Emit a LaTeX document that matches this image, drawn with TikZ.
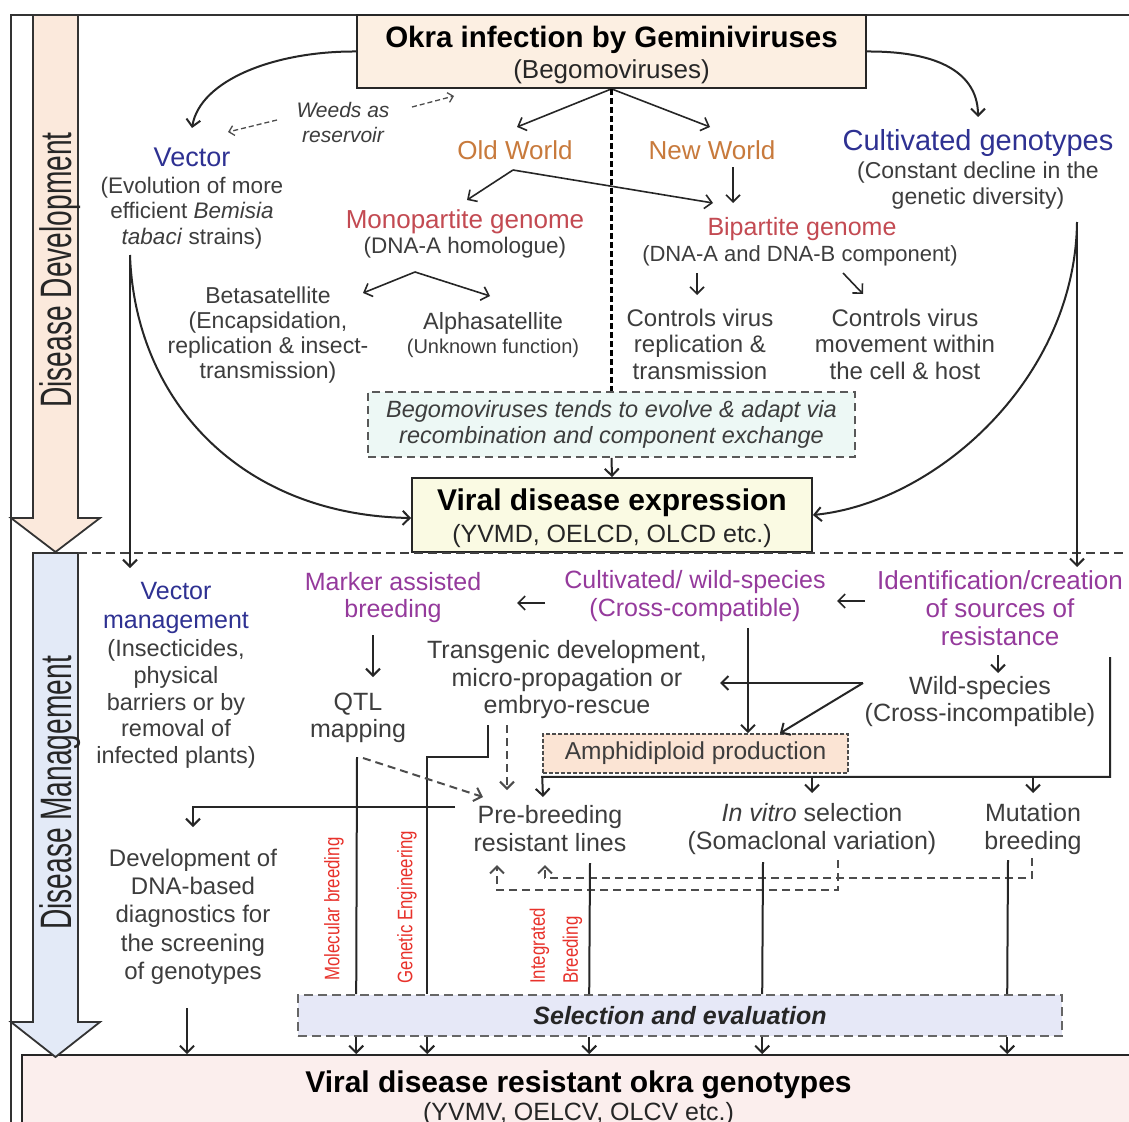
\documentclass[tikz,border=0pt]{standalone}
\usepackage{fontspec}
\setmainfont{Liberation Sans}
\newfontfamily\condA[FakeStretch=0.8]{Liberation Sans}
\newfontfamily\condB[FakeStretch=0.64]{Liberation Sans}
\usetikzlibrary{arrows.meta}
\definecolor{cText}{HTML}{3D3D3D}
\definecolor{cBlue}{HTML}{2E3192}
\definecolor{cOrange}{HTML}{C87A3C}
\definecolor{cRed}{HTML}{C34A52}
\definecolor{cPurple}{HTML}{953A9C}
\definecolor{cLab}{HTML}{E8322B}
\definecolor{fTop}{HTML}{FCEFE2}
\definecolor{fDD}{HTML}{FBE9DC}
\definecolor{fDM}{HTML}{E3EAF7}
\definecolor{fBego}{HTML}{EDF8F5}
\definecolor{fVde}{HTML}{FAFAE3}
\definecolor{fAmph}{HTML}{FBE4D4}
\definecolor{fSel}{HTML}{E6E8F7}
\definecolor{fRes}{HTML}{FBEEED}
\tikzset{
  lbl/.style={inner sep=0pt, align=center, text=cText},
  bx/.style={draw=black!85, line width=1.8pt, inner sep=0pt, align=center},
  ln/.style={line width=2pt, draw=black!85},
  arr/.style={ln, -{Straight Barb[length=7pt,width=14pt]}},
  dln/.style={ln, draw=black!70, dash pattern=on 8pt off 5pt},
  darr/.style={arr, draw=black!70, dash pattern=on 8pt off 5pt},
  bigarr/.style={line width=1.8pt, draw=black!80},
  vlab/.style={rotate=90, inner sep=0pt, text=cLab, font=\condA\fontsize{21}{33}\selectfont},
  side/.style={rotate=90, inner sep=0pt, text=black!85, font=\condB\fontsize{44}{44}\selectfont}
}
\begin{document}
\begin{tikzpicture}[x=1pt,y=-1pt]
\useasboundingbox (0,0) rectangle (1129,1121);
\clip (0,0) rectangle (1129,1121);
\fill[white] (0,0) rectangle (1129,1121);

% frame
\draw[line width=1.3pt, black!80] (11,1125) -- (11,15) -- (1132,15);

% bottom result box
\node[bx, fill=fRes, minimum width=1113pt, minimum height=82pt, font=\fontsize{25}{28}\selectfont, text=black!85] (res) at (578.5,1096)
  {{\fontsize{30}{28}\selectfont\bfseries\color{black}\rule{0pt}{26pt}Viral disease resistant okra genotypes}\\(YVMV, OELCV, OLCV etc.)};

% side arrows
\draw[bigarr, fill=fDD] (33,15) -- (78,15) -- (78,518) -- (100,518) -- (55.5,552) -- (11,518) -- (33,518) -- cycle;
\node[side] (ddl) at (60,270) {Disease Development};
\draw[bigarr, fill=fDM] (33,553) -- (78,553) -- (78,1022) -- (100,1022) -- (55.5,1057) -- (11,1022) -- (33,1022) -- cycle;
\node[side] (dml) at (60,793) {Disease Management};

% ---------- upper part ----------
\node[bx, fill=fTop, minimum width=509pt, minimum height=73pt, font=\fontsize{26}{31}\selectfont, text=black!85] (top) at (611.5,51.5)
  {{\fontsize{29.5}{31}\selectfont\bfseries\color{black}\rule{0pt}{28pt}Okra infection by Geminiviruses}\\(Begomoviruses)};

\node[lbl, font=\itshape\fontsize{21}{25}\selectfont] (ww) at (343,122) {Weeds as\\reservoir};
\node[lbl, text=cBlue, font=\fontsize{27}{30}\selectfont] (vec) at (192,157) {Vector};
\node[lbl, font=\fontsize{22.5}{25.5}\selectfont] (vecd) at (192,213) {(Evolution of more\\efficient \textit{Bemisia}\\\textit{tabaci} strains)};
\node[lbl, text=cBlue, font=\fontsize{29}{30}\selectfont] (cg) at (978,143) {Cultivated genotypes};
\node[lbl, font=\fontsize{23}{26}\selectfont] (cgd) at (978,186) {(Constant decline in the\\genetic diversity)};

\node[lbl, text=cOrange, font=\fontsize{26}{28}\selectfont] (ow) at (515,150) {Old World};
\node[lbl, text=cOrange, font=\fontsize{26}{28}\selectfont] (nw) at (712,150) {New World};

\node[lbl, text=cRed, font=\fontsize{26}{28}\selectfont] (mono) at (465,222) {Monopartite genome};
\node[lbl, font=\fontsize{22.5}{25}\selectfont] (monod) at (465,248) {(DNA-A homologue)};
\node[lbl, text=cRed, font=\fontsize{25}{28}\selectfont] (bi) at (802,229) {Bipartite genome};
\node[lbl, font=\fontsize{22}{25}\selectfont] (bid) at (800,256) {(DNA-A and DNA-B component)};

\node[lbl, font=\fontsize{23}{25}\selectfont] (beta) at (268,335.5) {Betasatellite\\(Encapsidation,\\replication \& insect-\\transmission)};
\node[lbl, font=\fontsize{23.5}{24}\selectfont] (alpha) at (493,335) {Alphasatellite\\{\fontsize{20}{24}\selectfont(Unknown function)}};
\node[lbl, font=\fontsize{24}{26.5}\selectfont] (cv1) at (700,344) {Controls virus\\replication \&\\transmission};
\node[lbl, font=\fontsize{24}{26.5}\selectfont] (cv2) at (905,344) {Controls virus\\movement within\\the cell \& host};

\node[bx, draw=black!65, dash pattern=on 8pt off 5pt, line width=1.6pt, fill=fBego, minimum width=487pt, minimum height=65pt, font=\itshape\fontsize{23.5}{26.5}\selectfont, text=cText] (bego) at (611.5,424.5)
  {Begomoviruses tends to evolve \& adapt via\\recombination and component exchange};

\node[bx, fill=fVde, minimum width=400pt, minimum height=74pt, font=\fontsize{25}{32}\selectfont, text=black!85] (vde) at (612,515)
  {{\fontsize{30}{32}\selectfont\bfseries\color{black}\rule{0pt}{28pt}Viral disease expression}\\(YVMD, OELCD, OLCD etc.)};

% upper connectors
\draw[arr] (top.west) .. controls (275,51) and (200,80) .. ([yshift=29pt]vec.center);
\draw[arr] (top.east) .. controls (950,51) and (978,80) .. ([yshift=26pt]cg.center);
\draw[darr, line width=1.3pt, dash pattern=on 5pt off 3pt, -{Straight Barb[length=5pt,width=10pt]}] ([xshift=-66pt,yshift=2pt]ww.center) -- ([xshift=36pt,yshift=25pt]vec.center);
\coordinate (wwtip) at (454,96);
\draw[darr, line width=1.3pt, dash pattern=on 5pt off 3pt, -{Straight Barb[length=5pt,width=10pt]}] ([xshift=69pt,yshift=15pt]ww.center) -- (wwtip);
\draw[arr, line width=1.6pt] (top.south) -- ([xshift=2pt,yshift=23pt]ow.center);
\draw[arr, line width=1.6pt] (top.south) -- ([xshift=-2pt,yshift=23pt]nw.center);
\draw[line width=3.4pt, black, dash pattern=on 6pt off 3pt] (top.south) -- (bego.north);
\draw[arr, line width=1.6pt] ([xshift=-2pt,yshift=-20pt]ow.center) -- ([xshift=2pt,yshift=22pt]mono.center);
\draw[arr, line width=1.6pt] ([xshift=-2pt,yshift=-20pt]ow.center) -- ([xshift=-89pt,yshift=26pt]bi.center);
\draw[arr, line width=1.6pt] ([xshift=21pt,yshift=-17pt]nw.center) -- ([xshift=-69pt,yshift=26pt]bi.center);
\draw[arr, line width=1.6pt] ([xshift=-50pt,yshift=-24pt]monod.center) -- ([xshift=95pt,yshift=42.5pt]beta.center);
\draw[arr, line width=1.6pt] ([xshift=-50pt,yshift=-24pt]monod.center) -- ([xshift=-3pt,yshift=39pt]alpha.center);
\draw[arr, line width=1.6pt] ([xshift=-103pt,yshift=-17pt]bid.center) -- ([xshift=-3pt,yshift=49pt]cv1.center);
\draw[arr, line width=1.6pt] ([xshift=43pt,yshift=-17pt]bid.center) -- ([xshift=-42pt,yshift=50pt]cv2.center);
\draw[arr] (bego.south) -- (vde.north);
\draw[arr] ([xshift=-62pt,yshift=-42pt]vecd.center) .. controls (135,400) and (240,515) .. ([yshift=-3pt]vde.west);
\draw[arr] ([xshift=99pt,yshift=-36pt]cgd.center) .. controls (1075,380) and (935,503) .. (vde.east);

% separator
\draw[line width=1.8pt, black!75, dash pattern=on 9pt off 5pt] (78,553) -- (1127,553);

% ---------- lower part ----------
\node[lbl, text=cBlue, font=\fontsize{25}{28.5}\selectfont] (vm) at (176,608) {Vector\\management};
\node[lbl, font=\fontsize{23.5}{26.75}\selectfont] (vmd) at (176,704) {(Insecticides,\\physical\\barriers or by\\removal of\\infected plants)};
\node[lbl, text=cPurple, font=\fontsize{25}{27}\selectfont] (mab) at (393,598) {Marker assisted\\breeding};
\node[lbl, font=\fontsize{25}{27.5}\selectfont] (qtl) at (358,718) {QTL\\mapping};
\node[lbl, text=cPurple, font=\fontsize{25}{28}\selectfont] (cw) at (695,596) {Cultivated/ wild-species\\(Cross-compatible)};
\node[lbl, text=cPurple, font=\fontsize{26}{28}\selectfont] (idc) at (1000,608) {Identification/creation\\of sources of\\resistance};
\node[lbl, font=\fontsize{25}{27}\selectfont] (wsp) at (980,701.5) {Wild-species\\(Cross-incompatible)};
\node[lbl, font=\fontsize{25}{27.5}\selectfont] (tg) at (567,680) {Transgenic development,\\micro-propagation or\\embryo-rescue};
\node[bx, draw=black!70, dash pattern=on 4pt off 2pt, line width=1.6pt, fill=fAmph, minimum width=305pt, minimum height=39pt, font=\fontsize{24.5}{27}\selectfont, text=cText] (amph) at (695.5,753.5) {Amphidiploid production};
\node[lbl, font=\fontsize{25}{28}\selectfont] (pb) at (550,829) {Pre-breeding\\resistant lines};
\node[lbl, font=\fontsize{25}{28}\selectfont] (ivs) at (812,829) {\textit{In vitro} selection\\(Somaclonal variation)};
\node[lbl, font=\fontsize{25}{28}\selectfont] (mut) at (1033,829) {Mutation\\breeding};
\node[lbl, font=\fontsize{24}{28.3}\selectfont] (dna) at (193,916.5) {Development of\\DNA-based\\diagnostics for\\the screening\\of genotypes};
\node[bx, draw=black!60, dash pattern=on 9pt off 5pt, line width=1.6pt, fill=fSel, minimum width=764pt, minimum height=41pt, font=\bfseries\itshape\fontsize{25}{27}\selectfont, text=black!85] (sel) at (680,1015.5) {Selection and evaluation};

\node[vlab] (molb) at (334,909) {Molecular breeding};
\node[vlab] (geng) at (407,907) {Genetic Engineering};
\node[vlab, align=left] (intb) at (556,946) {Integrated\\Breeding};

% lower connectors
\draw[arr] ([xshift=-62pt,yshift=-42pt]vecd.center) -- ([xshift=-46pt,yshift=40pt]vm.center);
\draw[arr] ([xshift=99pt,yshift=-36pt]cgd.center) -- ([xshift=77pt,yshift=41pt]idc.center);
\draw[arr, line width=1.6pt] ([xshift=-150pt,yshift=-7pt]cw.center) -- ([xshift=124pt,yshift=-5pt]mab.center);
\draw[arr, line width=1.6pt] ([xshift=-135pt,yshift=7pt]idc.center) -- ([xshift=142pt,yshift=-5pt]cw.center);
\draw[arr] ([xshift=-20pt,yshift=-37pt]mab.center) -- ([xshift=15pt,yshift=41pt]qtl.center);
\draw[arr] ([xshift=-2pt,yshift=-47pt]idc.center) -- ([xshift=18pt,yshift=28.5pt]wsp.center);
\draw[arr] ([xshift=53pt,yshift=-32pt]cw.center) -- ([xshift=52.5pt]amph.north);
\draw[arr] ([xshift=-117pt,yshift=18.5pt]wsp.center) -- ([xshift=153pt,yshift=-3pt]tg.center);
\draw[arr] ([xshift=-117pt,yshift=18.5pt]wsp.center) -- ([xshift=84.5pt]amph.north);
\coordinate (hbar) at (0,776);
\draw[arr] ([xshift=110pt,yshift=-49pt]idc.center) |- ([yshift=-3pt]amph.south west) -- ([xshift=-7pt,yshift=32pt]pb.center);
\draw[arr] (ivs.north |- hbar) -- ([yshift=36pt]ivs.center);
\draw[arr] (mut.north |- hbar) -- ([yshift=36pt]mut.center);
\draw[darr] ([xshift=-60pt,yshift=-45pt]tg.center) -- ([xshift=-43pt,yshift=39pt]pb.center);
\draw[ln] ([xshift=-79pt,yshift=-45pt]tg.center) -- ++(0,32) -| ([xshift=130pt]sel.north west);
\draw[ln] ([xshift=-1pt,yshift=-39pt]qtl.center) -- ([xshift=59pt]sel.north west);
\draw[darr] ([xshift=5pt,yshift=-40pt]qtl.center) -- ([xshift=-67pt,yshift=32pt]pb.center);
\draw[arr] ([xshift=-95pt,yshift=22pt]pb.center) -| ([yshift=89.5pt]dna.center);
\draw[darr] ([xshift=26pt,yshift=-31pt]ivs.center) -- ++(0,30) -| ([xshift=-53pt,yshift=-36pt]pb.center);
\draw[darr] ([xshift=-1pt,yshift=-29pt]mut.center) -- ++(0,20) -| ([xshift=-5pt,yshift=-36pt]pb.center);
\draw[ln] ([xshift=40pt,yshift=-34pt]pb.center) -- ([xshift=292pt]sel.north west);
\draw[ln] ([xshift=-49pt,yshift=-33pt]ivs.center) -- ([xshift=465pt]sel.north west);
\draw[ln] ([xshift=-25pt,yshift=-31pt]mut.center) -- ([xshift=710pt]sel.north west);
\foreach \dx in {59,130,292,465,710}
  \draw[arr] ([xshift=\dx pt]sel.south west) -- ([xshift=\dx pt]sel.south west |- res.north);
\draw[arr] ([xshift=-6pt,yshift=-91.5pt]dna.center) -- ([xshift=-6pt]dna.center |- res.north);
\end{tikzpicture}
\end{document}
